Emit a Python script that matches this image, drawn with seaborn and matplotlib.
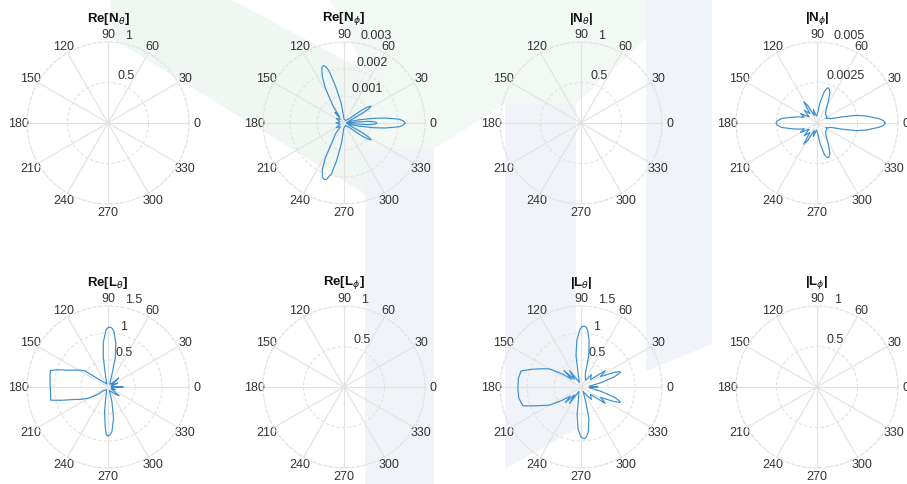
import numpy as np
import matplotlib
matplotlib.use("Agg")
import matplotlib.pyplot as plt
from matplotlib.patches import Polygon
import seaborn as sns

sns.set_style("white")
plt.rcParams["font.family"] = ["Liberation Sans", "DejaVu Sans"]

# --- data (angles in degrees) ---
theta_ticks = list(range(0, 360, 30))

zero_theta = [0, 90, 180, 270, 360]
zero_r = [0, 0, 0, 0, 0]

# Re[N_phi]
re_nphi_theta = [0, 2, 4, 7, 9, 12, 16, 24, 28, 30, 32, 34, 36, 41, 60, 90, 98, 103, 106, 108,
                 110, 112, 115, 118, 123, 126, 130, 135, 150, 165, 180, 195, 210, 225, 232, 237,
                 242, 245, 248, 251, 253, 256, 259, 263, 268, 300, 319, 324, 326, 328, 330, 332,
                 336, 344, 348, 351, 353, 356, 358, 360]
re_nphi_r = [0.00226, 0.00220, 0.00204, 0.00152, 0.00111, 0.00056, 0.00015, 0.00030, 0.00081,
             0.00105, 0.00118, 0.00105, 0.00081, 0.00022, 0.00011, 0.00015, 0.00074, 0.00141,
             0.00200, 0.00220, 0.00226, 0.00220, 0.00190, 0.00148, 0.00074, 0.00030, 0.00052,
             0.00019, 0.00033, 0.00015, 0.00030, 0.00015, 0.00033, 0.00019, 0.00052, 0.00074,
             0.00148, 0.00190, 0.00215, 0.00222, 0.00217, 0.00195, 0.00141, 0.00074, 0.00019,
             0.00011, 0.00022, 0.00081, 0.00105, 0.00118, 0.00105, 0.00081, 0.00030, 0.00015,
             0.00056, 0.00111, 0.00152, 0.00204, 0.00220, 0.00226]
re_nphi_inner_theta = [352, 356, 358, 360, 362, 364, 368]
re_nphi_inner_r = [0.00010, 0.00090, 0.00115, 0.00122, 0.00115, 0.00090, 0.00010]

# |N_phi|
abs_nphi_theta = [0, 2, 4, 8, 11, 14, 18, 22, 26, 35, 45, 55, 62, 67, 70, 72, 74, 77, 82, 86, 95,
                  105, 110, 118, 122, 127, 135, 142, 150, 156, 162, 168, 173, 177, 180, 183, 187,
                  192, 198, 204, 210, 218, 225, 233, 238, 242, 250, 255, 265, 274, 278, 283, 286,
                  288, 290, 293, 298, 305, 315, 325, 334, 338, 342, 346, 349, 352, 356, 358, 360]
abs_nphi_r = [0.00420, 0.00412, 0.00383, 0.00309, 0.00247, 0.00154, 0.00086, 0.00080, 0.00062,
              0.00074, 0.00074, 0.00099, 0.00148, 0.00204, 0.00222, 0.00228, 0.00222, 0.00198,
              0.00123, 0.00062, 0.00043, 0.00086, 0.00049, 0.00123, 0.00154, 0.00074, 0.00111,
              0.00062, 0.00117, 0.00086, 0.00123, 0.00167, 0.00222, 0.00245, 0.00253, 0.00245,
              0.00222, 0.00167, 0.00123, 0.00086, 0.00117, 0.00062, 0.00111, 0.00074, 0.00154,
              0.00123, 0.00049, 0.00086, 0.00043, 0.00062, 0.00123, 0.00198, 0.00220, 0.00225,
              0.00220, 0.00204, 0.00148, 0.00099, 0.00074, 0.00074, 0.00062, 0.00080, 0.00086,
              0.00154, 0.00247, 0.00309, 0.00383, 0.00412, 0.00420]

# Re[L_theta]
re_lth_theta = [0, 3, 10, 22, 28, 40, 45, 60, 72, 76, 80, 84, 86, 88, 90, 92, 96, 99, 103, 110,
                130, 140, 145, 150, 155, 158, 160, 162, 164, 170, 180, 187, 193, 196, 200, 205,
                210, 215, 222, 245, 258, 262, 266, 268, 270, 272, 275, 280, 285, 292, 315, 322,
                327, 340, 350, 360]
re_lth_r = [0.28, 0.07, 0.06, 0.19, 0.07, 0.26, 0.09, 0.06, 0.22, 0.56, 0.83, 1.04, 1.09, 1.11,
            1.10, 1.06, 0.83, 0.56, 0.19, 0.06, 0.11, 0.22, 0.52, 0.63, 0.74, 0.83, 0.93, 1.02,
            1.11, 1.09, 1.07, 1.07, 1.09, 0.89, 0.68, 0.54, 0.41, 0.26, 0.09, 0.06, 0.19, 0.46,
            0.74, 0.89, 0.91, 0.89, 0.83, 0.59, 0.28, 0.07, 0.19, 0.26, 0.07, 0.15, 0.06, 0.28]

# |L_theta|
abs_lth_theta = [0, 5, 12, 17, 20, 21, 22, 24, 28, 34, 38, 50, 55, 65, 72, 76, 80, 83, 85, 87,
                 89, 91, 95, 99, 103, 110, 125, 130, 136, 140, 145, 150, 155, 160, 165, 172, 181,
                 190, 198, 202, 206, 210, 215, 220, 225, 230, 235, 245, 258, 262, 266, 270, 272,
                 274, 276, 279, 284, 288, 295, 305, 310, 322, 326, 332, 336, 338, 339, 340, 343,
                 348, 355, 360]
abs_lth_r = [0.31, 0.15, 0.37, 0.65, 0.76, 0.78, 0.76, 0.65, 0.41, 0.54, 0.22, 0.30, 0.15, 0.19,
             0.26, 0.59, 0.87, 1.04, 1.11, 1.13, 1.12, 1.07, 0.87, 0.59, 0.22, 0.09, 0.37, 0.19,
             0.44, 0.22, 0.41, 0.67, 0.80, 0.96, 1.15, 1.17, 1.17, 1.17, 1.13, 0.93, 0.78, 0.67,
             0.44, 0.26, 0.41, 0.19, 0.37, 0.09, 0.22, 0.52, 0.78, 0.93, 0.95, 0.96, 0.93, 0.85,
             0.61, 0.28, 0.09, 0.19, 0.30, 0.22, 0.54, 0.41, 0.65, 0.76, 0.78, 0.76, 0.65, 0.37,
             0.15, 0.31]

# panel settings: title, r ticks, r tick labels
panels = [
    (r"Re[N$_\theta$]", [0.5, 1], ["0.5", "1"], [(zero_theta, zero_r)]),
    (r"Re[N$_\phi$]", [0.001, 0.002, 0.003], ["0.001", "0.002", "0.003"],
     [(re_nphi_theta, re_nphi_r), (re_nphi_inner_theta, re_nphi_inner_r)]),
    (r"|N$_\theta$|", [0.5, 1], ["0.5", "1"], [(zero_theta, zero_r)]),
    (r"|N$_\phi$|", [0.0025, 0.005], ["0.0025", "0.005"], [(abs_nphi_theta, abs_nphi_r)]),
    (r"Re[L$_\theta$]", [0.5, 1, 1.5], ["0.5", "1", "1.5"], [(re_lth_theta, re_lth_r)]),
    (r"Re[L$_\phi$]", [0.5, 1], ["0.5", "1"], [(zero_theta, zero_r)]),
    (r"|L$_\theta$|", [0.5, 1, 1.5], ["0.5", "1", "1.5"], [(abs_lth_theta, abs_lth_r)]),
    (r"|L$_\phi$|", [0.5, 1], ["0.5", "1"], [(zero_theta, zero_r)]),
]

W, H, R = 907, 485, 81
col_x = [108, 344, 581, 817]
row_y = [124, 388]
line_color = "#3b8fd1"
grid_color = "#e2e2e2"
text_color = "#333333"

fig = plt.figure(figsize=(W / 100, H / 100), dpi=100)

# faint watermark behind the plots (pixel corners, y from top)
watermark = [
    ([(505, 105), (576, 105), (576, 430), (505, 470)], "#f0f4f8"),
    ([(646, 0), (712, 0), (712, 345), (646, 372)], "#f0f4f8"),
    ([(365, 150), (434, 150), (434, 485), (365, 485)], "#f0f4f8"),
    ([(110, 0), (230, 0), (365, 72), (365, 195), (113, 40)], "#f0f7f2"),
    ([(330, 0), (646, 0), (646, 40), (576, 105), (505, 105), (434, 150), (365, 150), (365, 72)],
     "#f2f8f4"),
]
for pts, col in watermark:
    fig.patches.append(Polygon([(x / W, 1 - y / H) for x, y in pts], closed=True,
                               transform=fig.transFigure, facecolor=col, edgecolor="none",
                               zorder=-5))

for i, (title, rticks, rlabels, curves) in enumerate(panels):
    cx, cy = col_x[i % 4], row_y[i // 4]
    ax = fig.add_axes([(cx - R) / W, (H - cy - R) / H, 2 * R / W, 2 * R / H], projection="polar")
    ax.set_facecolor("none")
    ax.set_zorder(2)

    for th, r in curves:
        sns.lineplot(x=np.deg2rad(th), y=r, sort=False, estimator=None, ax=ax,
                     color=line_color, lw=0.85)

    ax.set_rlim(0, rticks[-1])
    ax.set_thetagrids(theta_ticks, labels=[str(t) for t in theta_ticks])
    ax.set_yticks(rticks)
    ax.set_yticklabels([])
    ax.set_xlabel("")
    ax.set_ylabel("")
    ax.xaxis.grid(True, color=grid_color, lw=0.8, ls="-")
    ax.yaxis.grid(True, color=grid_color, lw=0.8, ls=(0, (3, 2)))
    ax.spines["polar"].set_color(grid_color)
    ax.spines["polar"].set_linestyle((0, (3, 2)))
    ax.tick_params(axis="x", pad=-1, labelsize=9, labelcolor=text_color, length=0)

    for t, lab in zip(rticks, rlabels):
        ax.annotate(lab, xy=(np.deg2rad(80), t), xytext=(2, 1.5), textcoords="offset points",
                    ha="left", va="bottom", fontsize=9, color=text_color)

    ax.text(0.5, 1.15, title, transform=ax.transAxes, ha="center", va="center",
            fontsize=9.5, fontweight="bold", color="#111111")

fig.savefig("out.png", dpi=100)
